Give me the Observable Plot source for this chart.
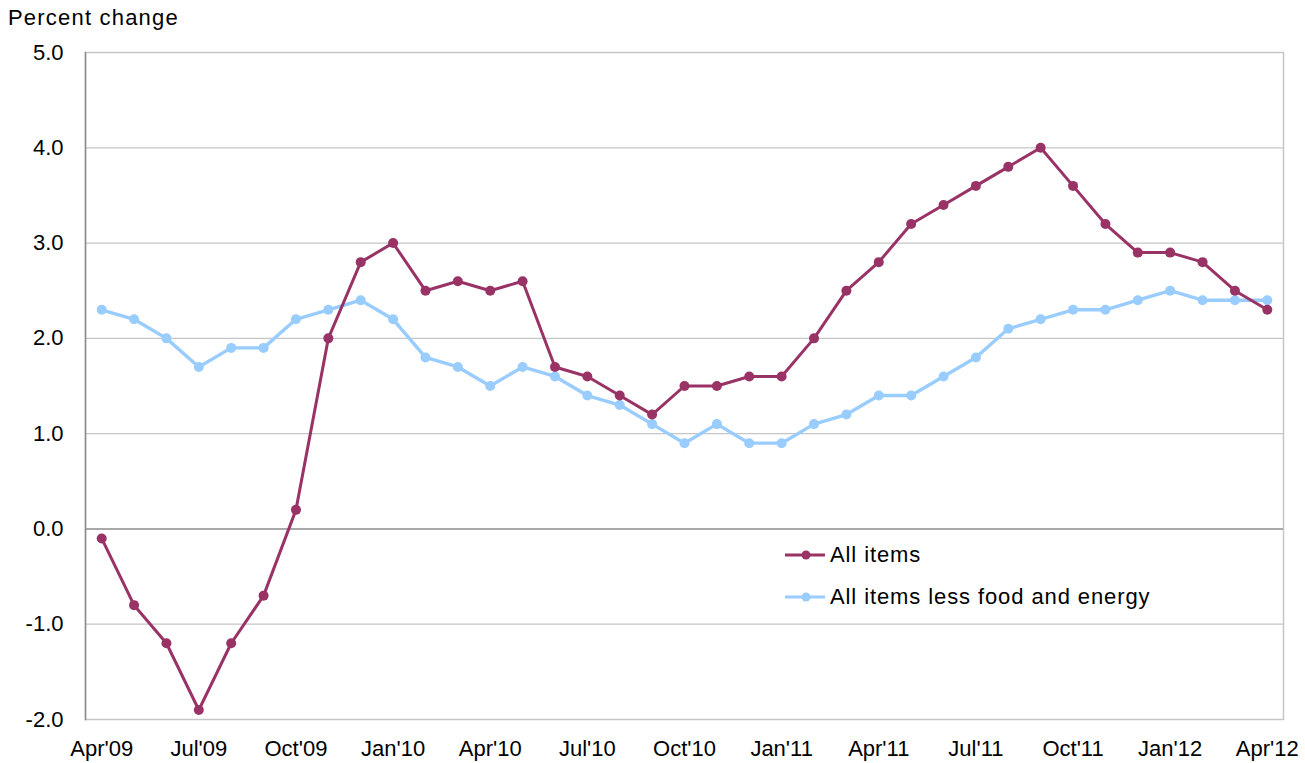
<!DOCTYPE html>
<html><head><meta charset="utf-8">
<script src="https://cdn.jsdelivr.net/npm/d3@7"></script>
<script src="https://cdn.jsdelivr.net/npm/@observablehq/plot@0.6"></script>
<style>
body{margin:0;background:#fff;font-family:"Liberation Sans",Arial,sans-serif;}
#wrap{position:relative;width:1305px;height:763px;overflow:hidden;}
#title{position:absolute;left:8px;top:5px;font-size:22px;line-height:26px;letter-spacing:1.2px;color:#000;}
#chart{position:absolute;left:0;top:0;}
#legend{position:absolute;left:785px;top:534px;font-size:22px;letter-spacing:0.9px;color:#000;}
.row{display:flex;align-items:center;height:42px;}
.row svg{margin-right:3px;}
</style></head>
<body>
<div id="wrap">
  <div id="chart"></div>
  <div id="title">Percent change</div>
  <div id="legend"></div>
</div>
<script>
const months = ["Apr'09","May'09","Jun'09","Jul'09","Aug'09","Sep'09","Oct'09","Nov'09","Dec'09",
  "Jan'10","Feb'10","Mar'10","Apr'10","May'10","Jun'10","Jul'10","Aug'10","Sep'10","Oct'10","Nov'10","Dec'10",
  "Jan'11","Feb'11","Mar'11","Apr'11","May'11","Jun'11","Jul'11","Aug'11","Sep'11","Oct'11","Nov'11","Dec'11",
  "Jan'12","Feb'12","Mar'12","Apr'12"];
const allItems = [-0.1,-0.8,-1.2,-1.9,-1.2,-0.7,0.2,2.0,2.8,
  3.0,2.5,2.6,2.5,2.6,1.7,1.6,1.4,1.2,1.5,1.5,1.6,
  1.6,2.0,2.5,2.8,3.2,3.4,3.6,3.8,4.0,3.6,3.2,2.9,
  2.9,2.8,2.5,2.3];
const coreItems = [2.3,2.2,2.0,1.7,1.9,1.9,2.2,2.3,2.4,
  2.2,1.8,1.7,1.5,1.7,1.6,1.4,1.3,1.1,0.9,1.1,0.9,
  0.9,1.1,1.2,1.4,1.4,1.6,1.8,2.1,2.2,2.3,2.3,2.4,
  2.5,2.4,2.4,2.4];
const xTicks = ["Apr'09","Jul'09","Oct'09","Jan'10","Apr'10","Jul'10","Oct'10","Jan'11","Apr'11","Jul'11","Oct'11","Jan'12","Apr'12"];
const yTicks = [-2,-1,0,1,2,3,4,5];
const gridTicks = [-1,1,2,3,4];
const seriesNames = ["All items","All items less food and energy"];
const seriesColors = ["#993366","#99ccff"];

const allData = months.map((m,i)=>({month:m, value:allItems[i]}));
const coreData = months.map((m,i)=>({month:m, value:coreItems[i]}));

const chart = Plot.plot({
  width:1305, height:763,
  marginLeft:85, marginRight:22, marginTop:52, marginBottom:44,
  style:{fontFamily:"'Liberation Sans', Arial, sans-serif", fontSize:"22px", color:"#000", background:"#fff", overflow:"visible"},
  x:{type:"point", domain:months, padding:0.5, round:false},
  y:{domain:[-2,5]},
  marks:[
    Plot.ruleY(gridTicks, {stroke:"#c6c6c6", strokeWidth:1.3}),
    Plot.frame({stroke:"#c6c6c6", strokeWidth:1.5}),
    Plot.frame({anchor:"left", stroke:"#8c8c8c", strokeWidth:1.5}),
    Plot.ruleY([0], {stroke:"#8c8c8c", strokeWidth:1.5}),
    Plot.axisY({ticks:yTicks, tickSize:0, tickPadding:22, tickFormat:d=>d.toFixed(1), label:null}),
    Plot.axisX({ticks:xTicks, tickSize:0, tickPadding:21, label:null}),
    Plot.line(coreData, {x:"month", y:"value", stroke:seriesColors[1], strokeWidth:3.4}),
    Plot.dot(coreData, {x:"month", y:"value", fill:seriesColors[1], r:5}),
    Plot.line(allData, {x:"month", y:"value", stroke:seriesColors[0], strokeWidth:3}),
    Plot.dot(allData, {x:"month", y:"value", fill:seriesColors[0], r:5})
  ]
});
document.getElementById("chart").appendChild(chart);

const legend = document.getElementById("legend");
seriesNames.forEach((name,i)=>{
  const row = document.createElement("div");
  row.className="row";
  row.innerHTML = `<svg width="42" height="12"><line x1="0" y1="6" x2="40" y2="6" stroke="${seriesColors[i]}" stroke-width="3"/><circle cx="21" cy="6" r="4.5" fill="${seriesColors[i]}"/></svg><span>${name}</span>`;
  legend.appendChild(row);
});
</script>
</body></html>
